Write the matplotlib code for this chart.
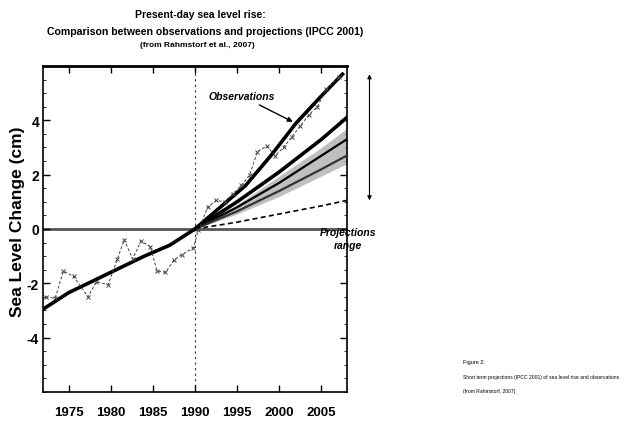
import matplotlib
matplotlib.use('Agg')
from matplotlib import pyplot as plt

plt.rcParams['font.family'] = ['Liberation Sans', 'DejaVu Sans']

# smooth observed trend (tide gauges, then satellite era)
trend_years = [1972, 1975, 1978, 1981, 1984, 1987, 1990, 1993, 1996, 1999, 2002, 2005, 2007.5]
trend_vals = [-2.95, -2.35, -1.9, -1.45, -1.0, -0.6, 0.0, 0.8, 1.6, 2.7, 3.9, 4.9, 5.7]

# annual observations
obs_years = [1972.3, 1973.4, 1974.4, 1975.6, 1977.3, 1978.3, 1979.7, 1980.8, 1981.6,
             1982.6, 1983.6, 1984.7, 1985.5, 1986.5, 1987.5, 1988.4, 1989.8, 1990.4,
             1991.5, 1992.5, 1993.5, 1994.5, 1995.5, 1996.5, 1997.4, 1998.5, 1999.5,
             2000.5, 2001.5, 2002.5, 2003.5, 2004.5, 2005.6, 2007.1]
obs_vals = [-2.5, -2.55, -1.55, -1.75, -2.5, -1.95, -2.05, -1.1, -0.4,
            -1.1, -0.45, -0.65, -1.55, -1.6, -1.15, -0.95, -0.7, -0.05,
            0.8, 1.05, 1.0, 1.3, 1.6, 2.0, 2.85, 3.05, 2.7, 3.0, 3.4, 3.8,
            4.2, 4.5, 5.15, 5.6]

# IPCC 2001 projections starting 1990
proj_years = [1990, 1995, 2000, 2005, 2008]
proj_high = [0.0, 1.0, 2.1, 3.3, 4.1]
proj_mid = [0.0, 0.8, 1.7, 2.7, 3.3]
proj_low = [0.0, 0.65, 1.4, 2.2, 2.7]
proj_min = [0.0, 0.25, 0.55, 0.85, 1.05]
band_upper = [0.0, 0.9, 1.95, 3.0, 3.7]
band_lower = [0.0, 0.55, 1.2, 1.95, 2.4]

year_ticks = [1975, 1980, 1985, 1990, 1995, 2000, 2005]
level_ticks = [-4, -2, 0, 2, 4]

fig = plt.figure(figsize=(6.27, 4.27), dpi=100)
ax = fig.add_axes([0.069, 0.080, 0.484, 0.763])

ax.axhline(0, color='#555555', lw=2, zorder=1)
ax.axvline(1990, color='#333333', lw=0.8, ls=(0, (2, 3)), zorder=1)

ax.fill_between(proj_years, band_lower, band_upper, color='#b0b0b0', alpha=0.8, lw=0, zorder=2)
ax.plot(proj_years, proj_high, color='black', lw=2.6, zorder=3)
ax.plot(proj_years, proj_mid, color='black', lw=1.6, zorder=3)
ax.plot(proj_years, proj_low, color='#333333', lw=1.6, zorder=3)
ax.plot(proj_years, proj_min, color='black', lw=1.2, ls=(0, (3, 2)), zorder=3)

ax.plot(trend_years, trend_vals, color='black', lw=2.6, zorder=4)
ax.plot(obs_years, obs_vals, color='#444444', lw=0.7, ls=(0, (3, 2)),
        marker='x', ms=3, mew=0.7, zorder=4)

ax.set_xlim(1972, 2008)
ax.set_ylim(-6, 6)
ax.set_xticks(year_ticks)
ax.set_yticks(level_ticks)
ax.set_xticklabels([str(y) for y in year_ticks], fontsize=9.5, fontweight='bold')
ax.set_yticklabels([str(v) for v in level_ticks], fontsize=10, fontweight='bold')
ax.minorticks_on()
ax.tick_params(which='both', direction='in', top=True, right=True, labeltop=False)
ax.tick_params(which='major', length=5, width=1)
ax.tick_params(which='minor', length=2, width=0.6)
ax.tick_params(axis='x', which='minor', bottom=False, top=False)
ax.tick_params(axis='x', pad=10)
ax.tick_params(axis='y', pad=3)
for s in ax.spines.values():
    s.set_linewidth(1.2)
ax.spines['top'].set_linewidth(2)

ax.set_ylabel('Sea Level Change (cm)', fontsize=12.5, fontweight='bold', va='center')
ax.yaxis.set_label_coords(-0.085, 0.525)

ax.annotate('Observations', xy=(2001.9, 3.9), xytext=(1995.5, 4.9),
            ha='center', va='center', fontsize=7.5, fontweight='bold', style='italic',
            arrowprops=dict(arrowstyle='-|>', color='black', lw=1, mutation_scale=7))
ax.text(2008.2, -0.1, 'Projections', ha='center', va='center', fontsize=7.5,
        fontweight='bold', style='italic', clip_on=False)
ax.text(2008.2, -0.6, 'range', ha='center', va='center', fontsize=7.5,
        fontweight='bold', style='italic', clip_on=False)
ax.annotate('', xy=(2010.7, 5.8), xytext=(2010.7, 0.95), annotation_clip=False,
            arrowprops=dict(arrowstyle='<|-|>', color='black', lw=0.8, mutation_scale=6))

fig.text(0.32, 0.965, 'Present-day sea level rise:', ha='center', va='center',
         fontsize=7.5, fontweight='bold')
fig.text(0.327, 0.925, 'Comparison between observations and projections (IPCC 2001)',
         ha='center', va='center', fontsize=7.6, fontweight='bold')
fig.text(0.315, 0.894, '(from Rahmstorf et al., 2007)', ha='center', va='center',
         fontsize=6, fontweight='bold')

fig.text(0.738, 0.150, 'Figure 2:', ha='left', va='center', fontsize=4)
fig.text(0.738, 0.117, 'Short term projections (IPCC 2001) of sea level rise and observations',
         ha='left', va='center', fontsize=3.6)
fig.text(0.738, 0.084, '(from Rahmstorf, 2007)', ha='left', va='center', fontsize=3.6)

fig.savefig('out.png', dpi=100)
